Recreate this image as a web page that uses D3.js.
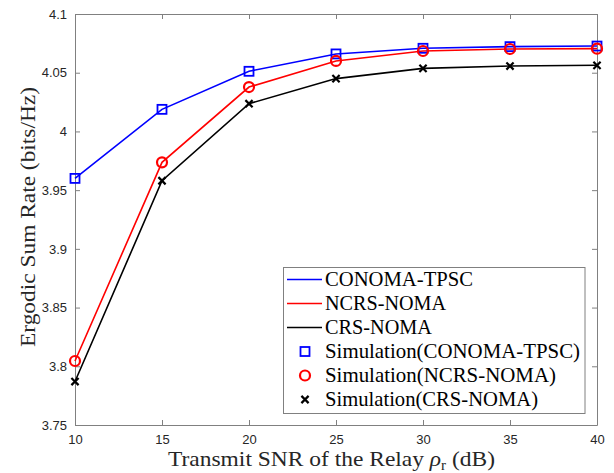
<!DOCTYPE html>
<html><head><meta charset="utf-8">
<script src="https://cdn.jsdelivr.net/npm/d3@7"></script>
<style>body{margin:0;background:#fff}svg{display:block}</style>
</head><body>
<script>
const snr = [10, 15, 20, 25, 30, 35, 40];
const conoma = [3.960, 4.0188, 4.0512, 4.0660, 4.0708, 4.0722, 4.0727];
const ncrs = [3.8045, 3.9737, 4.0378, 4.0600, 4.0685, 4.0702, 4.0705];
const crs = [3.787, 3.958, 4.0236, 4.0450, 4.0537, 4.0557, 4.0563];
const xTicks = [10, 15, 20, 25, 30, 35, 40];
const yTicks = [3.75, 3.8, 3.85, 3.9, 3.95, 4, 4.05, 4.1];
const seriesNames = ["CONOMA-TPSC", "NCRS-NOMA", "CRS-NOMA"];
const simNames = ["Simulation(CONOMA-TPSC)", "Simulation(NCRS-NOMA)", "Simulation(CRS-NOMA)"];
const colors = ["#0000ff", "#ff0000", "#000000"];
const markers = ["square", "circle", "cross"];

const W = 614, H = 473;
const m = {l: 75, r: 17, t: 14, b: 48};
const svg = d3.select("body").append("svg").attr("width", W).attr("height", H);
const x = d3.scaleLinear().domain([10, 40]).range([m.l, W - m.r]);
const y = d3.scaleLinear().domain([3.75, 4.1]).range([H - m.b, m.t]);
const axisCol = "#808080", tickText = "#262626";
const tickFont = "'Liberation Sans', Arial, sans-serif";
const serif = "'Liberation Serif', 'Times New Roman', serif";

function styleAxis(g, showText) {
  g.select(".domain").attr("stroke", axisCol);
  g.selectAll(".tick line").attr("stroke", axisCol);
  g.selectAll(".tick text").attr("fill", tickText).style("font-family", tickFont).style("font-size", "13px");
  if (!showText) g.selectAll(".tick text").remove();
}
const x0 = x.range()[0], x1 = x.range()[1], y0 = y.range()[0], y1 = y.range()[1];
svg.append("g").attr("transform", `translate(0,${y0})`)
  .call(d3.axisBottom(x).tickValues(xTicks).tickSize(-5).tickSizeOuter(0).tickPadding(10).tickFormat(d3.format("d")))
  .call(g => styleAxis(g, true));
svg.append("g").attr("transform", `translate(0,${y1})`)
  .call(d3.axisTop(x).tickValues(xTicks).tickSize(-5).tickSizeOuter(0))
  .call(g => styleAxis(g, false));
svg.append("g").attr("transform", `translate(${x0},0)`)
  .call(d3.axisLeft(y).tickValues(yTicks).tickSize(-5).tickSizeOuter(0).tickPadding(8).tickFormat(d => d3.format("")(+d.toFixed(2))))
  .call(g => styleAxis(g, true));
svg.append("g").attr("transform", `translate(${x1},0)`)
  .call(d3.axisRight(y).tickValues(yTicks).tickSize(-5).tickSizeOuter(0))
  .call(g => styleAxis(g, false));

const data = [conoma, ncrs, crs];
const line = d3.line().x((d, i) => x(snr[i])).y(d => y(d));
const plot = svg.append("g");

function drawMarker(g, type, cx, cy, col) {
  if (type === "square") {
    g.append("rect").attr("x", cx - 4.5).attr("y", cy - 4.5).attr("width", 9).attr("height", 9)
      .attr("fill", "none").attr("stroke", col).attr("stroke-width", 1.8);
  } else if (type === "circle") {
    g.append("circle").attr("cx", cx).attr("cy", cy).attr("r", 5)
      .attr("fill", "none").attr("stroke", col).attr("stroke-width", 2.2);
  } else {
    const s = 3.6;
    g.append("path").attr("d", `M${cx - s},${cy - s}L${cx + s},${cy + s}M${cx - s},${cy + s}L${cx + s},${cy - s}`)
      .attr("stroke", col).attr("stroke-width", 2.2).attr("fill", "none");
  }
}

data.forEach((s, k) => {
  plot.append("path").datum(s).attr("d", line).attr("fill", "none")
    .attr("stroke", colors[k]).attr("stroke-width", 1.6);
});
data.forEach((s, k) => {
  s.forEach((v, i) => drawMarker(plot, markers[k], x(snr[i]), y(v), colors[k]));
});

// Legend
const lg = svg.append("g");
const lx = 283.5, ly = 267.5, lw = 301.5, lh = 146;
lg.append("rect").attr("x", lx).attr("y", ly).attr("width", lw).attr("height", lh)
  .attr("fill", "#fff").attr("stroke", axisCol).attr("stroke-width", 1);
const rowY = i => 279.5 + i * 24;
const seriesW = [148, 121, 107], simW = [255, 231, 213];
seriesNames.forEach((n, i) => {
  lg.append("line").attr("x1", 287).attr("x2", 322).attr("y1", rowY(i)).attr("y2", rowY(i))
    .attr("stroke", colors[i]).attr("stroke-width", 1.6);
  lg.append("text").attr("x", 325).attr("y", rowY(i) + 6.5).text(n)
    .attr("textLength", seriesW[i]).attr("lengthAdjust", "spacingAndGlyphs")
    .style("font-family", serif).style("font-size", "21px").attr("fill", "#000");
});
simNames.forEach((n, j) => {
  const i = j + 3;
  drawMarker(lg, markers[j], 305, rowY(i), colors[j]);
  lg.append("text").attr("x", 325).attr("y", rowY(i) + 6.5).text(n)
    .attr("textLength", simW[j]).attr("lengthAdjust", "spacingAndGlyphs")
    .style("font-family", serif).style("font-size", "21px").attr("fill", "#000");
});

// Axis labels
svg.append("text").attr("x", 168).attr("y", 466)
  .attr("textLength", 327).attr("lengthAdjust", "spacingAndGlyphs")
  .style("font-family", serif).style("font-size", "22px").attr("fill", "#262626")
  .call(t => {
    t.append("tspan").text("Transmit SNR of the Relay ");
    t.append("tspan").attr("font-style", "italic").text("ρ");
    t.append("tspan").attr("dy", 4).style("font-size", "14px").text("r");
    t.append("tspan").attr("dy", -4).text(" (dB)");
  });
svg.append("text").attr("transform", `translate(35,217) rotate(-90)`).attr("text-anchor", "middle")
  .attr("textLength", 260).attr("lengthAdjust", "spacingAndGlyphs")
  .style("font-family", serif).style("font-size", "22px").attr("fill", "#262626")
  .text("Ergodic Sum Rate (bits/Hz)");
</script>
</body></html>
